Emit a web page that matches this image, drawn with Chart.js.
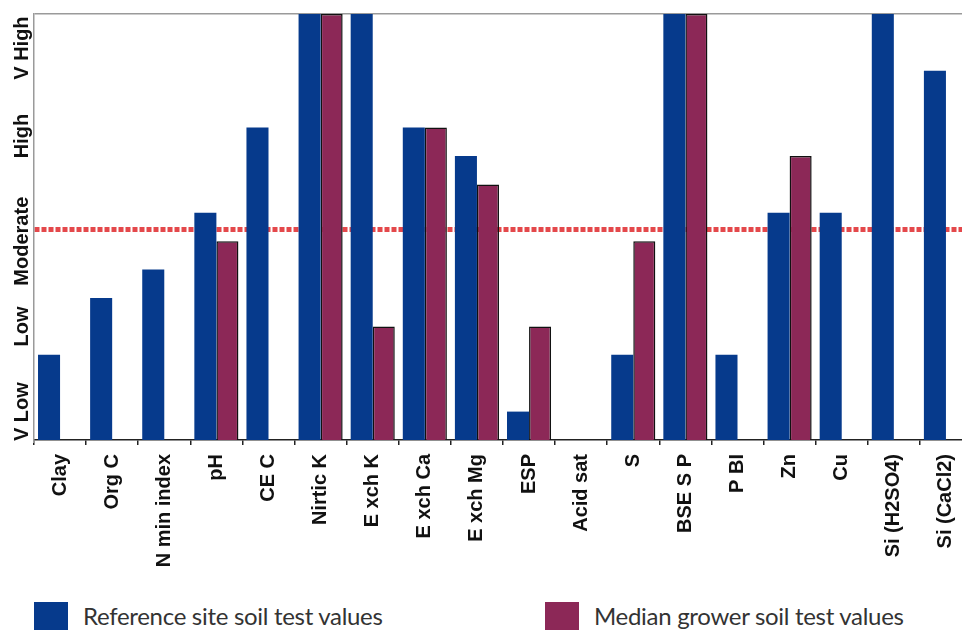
<!DOCTYPE html>
<html>
<head>
<meta charset="utf-8">
<script src="https://cdn.jsdelivr.net/npm/chart.js@4.4.0/dist/chart.umd.min.js"></script>
<style>
  html, body { margin: 0; padding: 0; background: #fff; overflow: hidden; }
  #wrap { position: relative; width: 980px; height: 630px; }
  #leyenda div.item { position: absolute; top: 602px; }
  #leyenda span.caja { position: absolute; left: 0; top: 0; width: 34px; height: 34px; }
  #leyenda span.texto {
    position: absolute; left: 49px; top: -1px; white-space: nowrap;
    font-family: "Lato", sans-serif; font-size: 24px; letter-spacing: -0.3px;
    color: #333; line-height: 30px;
  }
</style>
</head>
<body>
<div id="wrap">
  <canvas id="grafico" width="980" height="600"></canvas>
  <div id="leyenda"></div>
</div>
<script>
const categorias = ['Clay', 'Org C', 'N min index', 'pH', 'CE C', 'Nirtic K', 'E xch K', 'E xch Ca',
  'E xch Mg', 'ESP', 'Acid sat', 'S', 'BSE S P', 'P BI', 'Zn', 'Cu', 'Si (H2SO4)', 'Si (CaCl2)'];

// niveles: 0 = fondo del eje, 15 = tope (V High)
const valoresReferencia = [3, 5, 6, 8, 11, 15, 15, 11, 10, 1, 0, 3, 15, 3, 8, 8, 15, 13];
const valoresMediana   = [null, null, null, 7, null, 15, 4, 11, 9, 4, null, 7, 15, null, 10, null, null, null];

const nivelCritico = 7.4;
const nivelMaximo = 15;

const yTicksValores = [1, 4, 7, 10.7, 13.8];
const yTicksEtiquetas = ['V Low', 'Low', 'Moderate', 'High', 'V High'];

const AZUL = '#063a8c';
const GRANATE = '#8c2857';
const ROJO = '#e4484b';

// etiquetas del eje Y giradas, dibujadas sobre la escala
const etiquetasY = {
  id: 'etiquetasY',
  afterDraw(chart) {
    const ctx = chart.ctx;
    const escala = chart.scales.y;
    ctx.save();
    ctx.font = 'bold 20px "Liberation Sans", Arial, sans-serif';
    ctx.fillStyle = '#111';
    ctx.textAlign = 'center';
    ctx.textBaseline = 'middle';
    yTicksValores.forEach((v, i) => {
      const y = escala.getPixelForValue(v);
      ctx.save();
      ctx.translate(22, y);
      ctx.rotate(-Math.PI / 2);
      ctx.fillText(yTicksEtiquetas[i], 0, 0);
      ctx.restore();
    });
    ctx.restore();
  }
};

const ctx = document.getElementById('grafico').getContext('2d');
const grafico = new Chart(ctx, {
  type: 'bar',
  data: {
    labels: categorias,
    datasets: [
      {
        label: 'Reference site soil test values',
        data: valoresReferencia,
        backgroundColor: AZUL,
        borderWidth: 0,
        categoryPercentage: 0.846,
        barPercentage: 1.0
      },
      {
        label: 'Median grower soil test values',
        data: valoresMediana,
        backgroundColor: GRANATE,
        borderColor: '#111',
        borderWidth: 1.5,
        borderSkipped: 'bottom',
        categoryPercentage: 0.846,
        barPercentage: 1.0
      }
    ]
  },
  options: {
    responsive: false,
    animation: false,
    layout: { padding: { top: 14, right: 8, left: 0, bottom: 0 } },
    plugins: {
      legend: { display: false },
      tooltip: { enabled: false }
    },
    scales: {
      x: {
        grid: { display: true, drawOnChartArea: false, drawTicks: true, tickLength: 5, offset: true, color: '#222', lineWidth: 1.5 },
        border: { display: true, color: '#222', width: 1.5 },
        ticks: {
          autoSkip: false, minRotation: 90, maxRotation: 90, padding: 9,
          color: '#111',
          font: { family: '"Liberation Sans", Arial, sans-serif', size: 20, weight: 'bold' }
        },
        afterFit(scale) { scale.height = 160; }
      },
      y: {
        min: 0,
        max: nivelMaximo,
        // solo dos líneas de rejilla: el nivel crítico y el borde superior
        afterBuildTicks(scale) {
          scale.ticks = [{ value: nivelCritico }, { value: nivelMaximo }];
        },
        grid: {
          drawTicks: false,
          color: c => (c.tick && c.tick.value === nivelCritico ? ROJO : '#9a9a9a'),
          lineWidth: c => (c.tick && c.tick.value === nivelCritico ? 5 : 1.5)
        },
        border: {
          display: true, color: '#9a9a9a', width: 1.5,
          dash: c => (c.tick && c.tick.value === nivelCritico ? [5, 2] : [])
        },
        ticks: { display: false },
        afterFit(scale) { scale.width = 34; }
      }
    }
  },
  plugins: [etiquetasY]
});

// leyenda en HTML a partir de los datasets
const posicionesLeyenda = [34, 545];
const leyenda = document.getElementById('leyenda');
grafico.data.datasets.forEach((ds, i) => {
  const item = document.createElement('div');
  item.className = 'item';
  item.style.left = posicionesLeyenda[i] + 'px';
  item.innerHTML = `<span class="caja" style="background:${ds.backgroundColor}"></span><span class="texto">${ds.label}</span>`;
  leyenda.appendChild(item);
});
</script>
</body>
</html>
